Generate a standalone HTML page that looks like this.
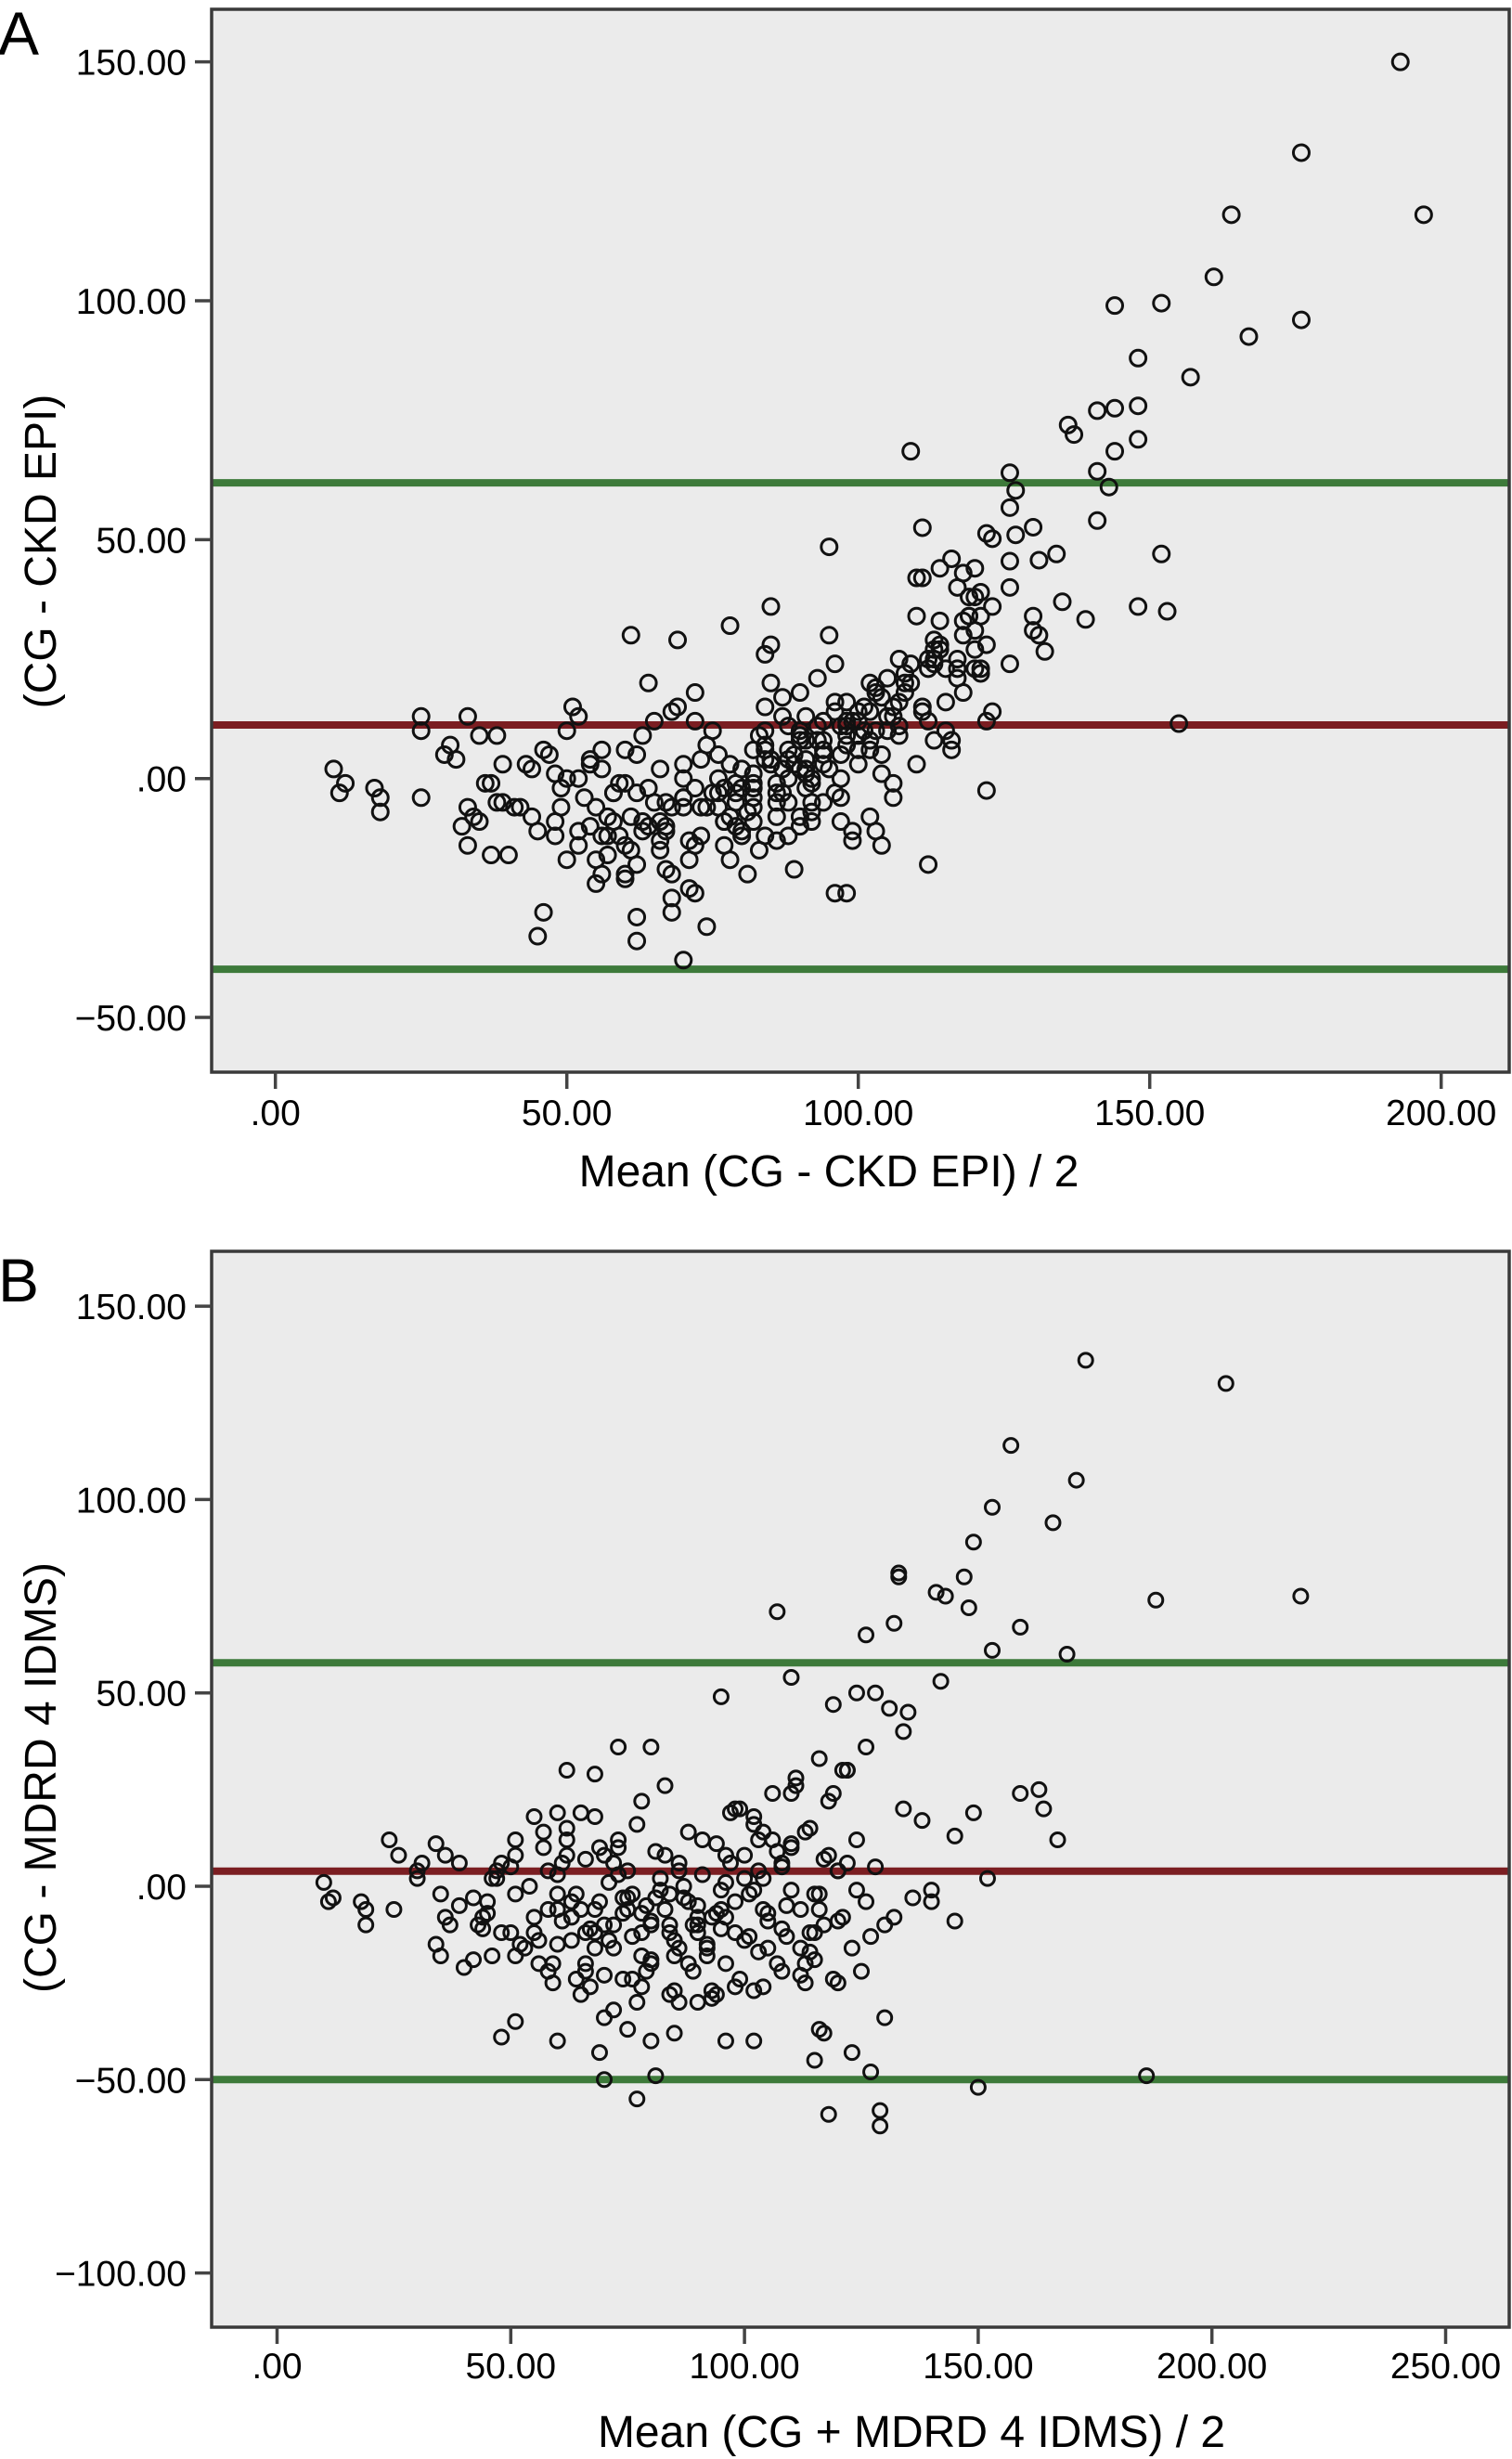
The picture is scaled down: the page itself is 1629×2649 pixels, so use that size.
<!DOCTYPE html>
<html><head><meta charset="utf-8"><style>
html,body{margin:0;padding:0;background:#fff}
svg{display:block}
text{font-family:"Liberation Sans",Arial,sans-serif;fill:#000}
</style></head><body>
<svg id="fig" width="1629" height="2649" viewBox="0 0 1629 2649" xmlns="http://www.w3.org/2000/svg"></svg>
<script>
// ---------- Panel A data ----------
const aMean = [193,176,164,197,161,144,152,176,167,148,157,136,137,141,144,148,148,144,109,141,143,126,127,141,111,130,122,123,127,126,152,95,134,131,126,120,118,116,114,111,110,153,148,139,135,132,130,130,131,126,123,121,121,118,119,120,117,114,113,113,112,113,117,120,126,155,122,104,112,
10,11,12,17,18,18,25,25,25,29,30,31,33,33,34,32,33,35,35,36,37,38,39,37,40,38,39,41,42,43,44,45,46,47,48,46,45,48,49,49,50,50,51,52,50,52,53,54,55,55,56,56,56,57,57,58,59,59,60,60,60,61,62,61,62,62,63,63,64,65,65,66,66,67,67,68,68,68,68,69,69,70,70,70,71,71,71,72,72,73,73,74,74,75,75,76,77,77,78,78,79,79,80,80,81,81,82,82,83,83,84,84,84,85,85,85,86,86,86,87,87,87,88,88,89,89,89,90,90,90,90,91,91,91,92,92,93,93,93,94,94,95,95,96,96,98,97,97,98,98,99,99,100,100,101,101,102,102,103,103,104,104,105,105,106,106,106,107,107,108,108,109,109,110,110,111,111,112,112,113,113,114,114,115,115,115,116,116,117,117,118,118,119,119,120,120,121,121,122,122,123,
80,82,84,86,88,90,92,94,96,98,100,76,78,80,82,84,86,88,90,92,94,96,98,100,102,104,66,70,74,58,62,54,44,48,52,64,72,60,68,76,82,88,94,99,103,107,79,85,91,97,
55,58,61,64,67,70,73,76,79,82,85,88,91,94,97,100,103,106,52,57,62,67,72,77,82,87,92,97,102,107,54,60,66,72,78,84,90,96,102,108,56,63,70,77,84,91,98,105];
const aDiff = [150,131,118,118,105,99,99.5,96,92.5,88,84,74,72,77,77.5,78,71,68.5,68.5,64.3,61,64,60.3,54,52.5,52.6,51.3,50.2,51,56.7,47,48.5,47,45.7,45.5,44,43,46,44,42,42,35,36,33.3,37,26.6,34,31,30,40,36,39,34,33,34,38,40,28,27,25,25,24,23,23,24,11.5,-2.5,-14,-18,
2,-3,-1,-2,-4,-7,13,10,-4,5,7,4,13,-6,-8,-10,-14,-9,9,-1,-1,9,3,-16,-16,-5,-5,-6,-6,3,2,-11,6,5,-9,-28,-33,-12,-6,-2,0,10,15,13,-17,-11,-4,-10,-17,-22,2,6,-20,-8,-12,-9,-12,-1,-1,-20,-21,-15,-3,30,-29,-34,-11,9,20,-5,12,-9,-13,-5,-19,-20,-25,-28,14,15,29,0,-38,-6,-13,-17,-23,-24,18,4,-6,-6,-31,10,-3,5,-9,-14,-17,32,-3,-10,-11,-12,-20,-7,1,-2,-15,9,10,15,26,20,28,36,-3,-8,-13,2,13,17,-5,-12,5,3,-19,18,10,-8,-10,-2,4,1,-1,-9,11,8,21,-5,6,2,30,24,-24,-24,-4,-9,7,11,-11,-13,9,3,15,10,14,-8,18,-11,5,1,10,13,13,-1,-4,16,9,18,22,20,24,3,34,14,15,12,23,8,29,33,27,23,16,10,8,6,25,21,18,30,38,34,31,27,23,22,28,12,14,
2,-4,6,-1,4,8,0,12,16,9,14,-6,3,-2,-9,7,-5,11,2,-7,5,-3,12,6,20,17,2,-4,7,-3,5,3,-8,1,0,-10,-2,-14,-6,-3,6,0,3,12,19,25,-1,4,8,11,
-6,-3,-8,-2,-10,-4,-12,0,-5,-1,3,6,2,8,5,12,10,15,-14,-16,-18,-11,-14,-9,-6,-3,-5,0,8,11,4,6,-15,12,-8,-12,9,14,6,20,-12,-9,3,-2,4,13,16,21];
const aYTicks = [150,100,50,0,-50];
const aYTickLabels = ["150.00","100.00","50.00",".00","\u221250.00"];
const aXTicks = [0,50,100,150,200];
const aXTickLabels = [".00","50.00","100.00","150.00","200.00"];
const aUpper = 61.9, aMeanLine = 11.2, aLower = -39.9;

// ---------- Panel B data ----------
const bMean = [173,203,157,171,153,166,149,133,133,147,141,143,148,107,188,219,126,132,159,153,169,110,142,95,119,124,128,126,131,135,134,159,163,164,167,149,145,152,140,140,145,127,130,150,186,77,118,129,129,123,115,127,70,81,48,51,60,69,80,85,96,102,116,117,75,70,
10,11,12,18,19,19,24,26,25,30,31,30,34,36,35,34,35,36,37,39,39,40,42,43,44,45,46,47,47,51,51,51,51,55,60,62,68,73,80,
42,44,46,48,50,52,54,56,57,58,59,60,61,62,63,64,65,66,67,68,69,70,71,72,73,74,75,76,77,78,79,80,81,82,83,84,85,86,87,88,89,90,91,92,93,94,95,96,97,98,99,100,101,102,103,104,105,106,107,108,109,110,111,112,113,114,115,116,117,118,119,120,121,122,123,124,125,
55,57,59,61,63,65,67,69,71,73,75,77,79,81,83,85,87,89,91,93,95,97,99,101,103,105,107,109,111,113,115,117,119,121,
60,64,68,72,76,80,84,88,92,96,100,104,108,112,116,120,124,128,132,136,
58,62,66,70,74,78,82,86,90,94,98,102,106,110,114,118,122,126,130,134,138,
66,72,78,84,90,96,102,108,114,120,76,86,94,104,112,
45,50,55,60,65,70,75,80,85,90,95,100,105,110,115,120,48,53,58,63,68,73,78,83,88,93,98,103,108,113,56,62,68,74,80,86,92,98,104,110,116,122,60,66,72,78,84,90,96,102];
const bDiff = [136,130,114,105,98,94,89,81,80,80,76,75,72,71,74,75,65,68,67,61,60,54,53,49,47,50,50,36,46,45,40,24,25,20,12,19,13,2,-1,-4,-9,-13,-34,-52,-49,-55,-59,-58,-62,-43,-45,-48,-50,-49,-39,-35,-40,-43,-40,-38,-40,-40,-37,-38,-37,-34,
1,-4,-3,-4,-6,-10,12,8,-6,4,6,2,11,8,-2,-15,-18,-8,-10,6,-5,-21,-19,-10,-11,-7,-18,2,4,12,8,-2,-18,18,19,30,29,36,36,
-3,-8,2,-12,5,-15,0,-20,10,-6,-25,3,-9,15,-14,-2,-28,7,-11,18,-4,-23,1,-16,12,-7,4,-13,-30,22,-5,-19,9,-1,26,-10,-27,6,-3,14,-22,-8,3,-15,-29,11,-6,1,19,-12,-24,8,-2,16,-17,2,-9,24,-20,5,-13,11,28,-6,-25,15,-2,33,-10,22,-24,4,-8,30,-16,12,-22,
-12,14,-20,6,-8,19,-26,10,-14,3,-6,16,-22,-3,8,-18,0,-10,12,-27,-1,6,20,-13,4,-16,9,-5,26,14,-19,7,24,30,
-6,-24,-16,-10,-2,-20,-12,-4,-18,-8,-14,-6,-11,-16,-2,-9,-1,5,-8,-3,
4,12,-12,8,-3,-7,2,-16,-12,-7,-4,-1,12,-1,-12,8,6,-4,-10,20,17,
-22,-32,-26,-28,-30,-20,-27,-22,-17,-25,-24,-30,-28,-26,-23,
-4,-12,-8,-15,-6,-10,-3,-9,-14,-5,-11,2,-7,10,-12,4,6,-16,-22,-4,-12,10,-18,-6,-20,-8,-26,12,6,-20,-14,8,-6,-24,-10,4,-16,20,14,24,-6,30,-2,-20,6,-12,-2,-10,8,18];
const bYTicks = [150,100,50,0,-50,-100];
const bYTickLabels = ["150.00","100.00","50.00",".00","\u221250.00","\u2212100.00"];
const bXTicks = [0,50,100,150,200,250];
const bXTickLabels = [".00","50.00","100.00","150.00","200.00","250.00"];
const bUpper = 57.8, bMeanLine = 3.9, bLower = -50.0;

const NS = "http://www.w3.org/2000/svg";
const svg = document.getElementById('fig');
function mk(tag, attrs, parent){ const e=document.createElementNS(NS,tag); for(const k in attrs) e.setAttribute(k,attrs[k]); (parent||svg).appendChild(e); return e; }

function panel(cfg){
  const g = mk('g',{});
  
  
  const xS = v => cfg.x0 + v*cfg.xk;
  const yS = v => cfg.y0 - v*cfg.yk;
  const bg = mk('rect',{x:cfg.L,y:cfg.T,width:cfg.R-cfg.L,height:cfg.B-cfg.T,fill:'#ebebeb',stroke:'none'},g);
  
  
  const lines = [[cfg.upper,'#3d7a3a','upper-limit-line'],[cfg.mean,'#7b1e22','mean-difference-line'],[cfg.lower,'#3d7a3a','lower-limit-line']];
  lines.forEach(l=>{
    const ln = mk('line',{x1:cfg.L,x2:cfg.R,y1:yS(l[0]),y2:yS(l[0]),stroke:l[1],'stroke-width':8},g);
    
    
  });
  const pg = mk('g',{},g);
  
  
  for(let i=0;i<cfg.xs.length && i<cfg.ys.length;i++){
    const c = mk('circle',{cx:xS(cfg.xs[i]),cy:yS(cfg.ys[i]),r:cfg.r,fill:'none',stroke:'#111','stroke-width':3},pg);
    
    
  }
  const fr = mk('path',{d:`M${cfg.L},${cfg.B} L${cfg.L},${cfg.T} L${cfg.R},${cfg.T} L${cfg.R},${cfg.B} Z`,fill:'none',stroke:'#3a3a3a','stroke-width':3.5},g);
  
  
  cfg.yT.forEach((v,i)=>{
    const y=yS(v);
    const t = mk('line',{x1:cfg.L-18,x2:cfg.L,y1:y,y2:y,stroke:'#444','stroke-width':3.5},g);
    
    
    const tx = mk('text',{x:cfg.L-27,y:y+14,'font-size':39,'text-anchor':'end'},g);
    tx.textContent = cfg.yL[i];
    
    
  });
  cfg.xT.forEach((v,i)=>{
    const x=xS(v);
    const t = mk('line',{x1:x,x2:x,y1:cfg.B,y2:cfg.B+18,stroke:'#444','stroke-width':3.5},g);
    
    
    const tx = mk('text',{x:x,y:cfg.xLabY,'font-size':39,'text-anchor':'middle'},g);
    tx.textContent = cfg.xL[i];
    
    
  });
  const xt = mk('text',{x:cfg.xTitleX,y:cfg.xTitleY,'font-size':48,'text-anchor':'middle'},g);
  xt.textContent = cfg.xTitle;
  
  
  const yt = mk('text',{x:0,y:0,'font-size':48,'text-anchor':'middle',transform:`translate(60,${cfg.yTitleY}) rotate(-90)`},g);
  yt.textContent = cfg.yTitle;
  
  
  const pl = mk('text',{x:-2,y:cfg.letterY,'font-size':66},g);
  pl.textContent = cfg.letter;
  
  
}

panel({name:'panel-a',L:228,T:10,R:1626,B:1155,x0:296.7,xk:6.28,y0:838.7,yk:5.147,
  xs:aMean,ys:aDiff,r:8.5,upper:aUpper,mean:aMeanLine,lower:aLower,
  yT:aYTicks,yL:aYTickLabels,xT:aXTicks,xL:aXTickLabels,xLabY:1212,
  xTitle:'Mean (CG - CKD EPI) / 2',xTitleX:893,xTitleY:1278,
  yTitle:'(CG - CKD EPI)',yTitleY:594,letter:'A',letterY:59});
panel({name:'panel-b',L:228,T:1348,R:1626,B:2507,x0:298.5,xk:5.036,y0:2032,yk:4.166,
  xs:bMean,ys:bDiff,r:7.5,upper:bUpper,mean:bMeanLine,lower:bLower,
  yT:bYTicks,yL:bYTickLabels,xT:bXTicks,xL:bXTickLabels,xLabY:2562,
  xTitle:'Mean (CG + MDRD 4 IDMS) / 2',xTitleX:982,xTitleY:2636,
  yTitle:'(CG - MDRD 4 IDMS)',yTitleY:1915,letter:'B',letterY:1402});
</script>
</body></html>
